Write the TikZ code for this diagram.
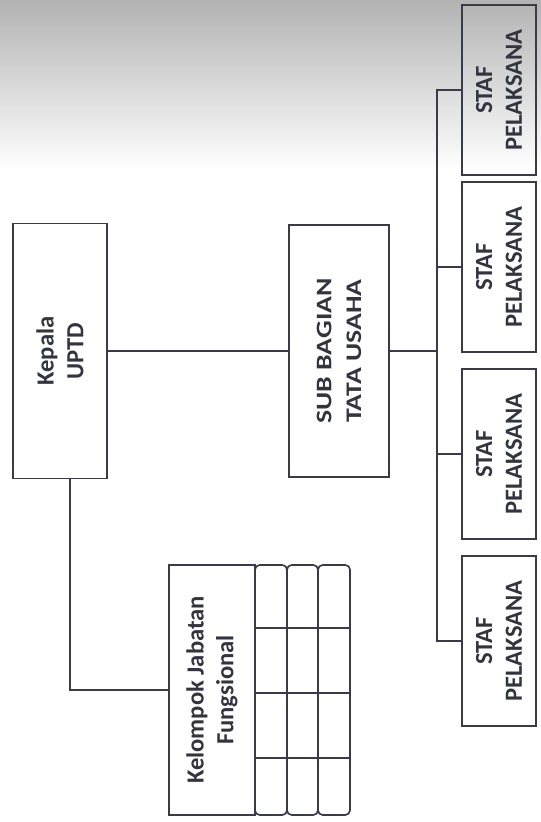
\documentclass[tikz,border=0pt]{standalone}
\usepackage{fontspec}
\setmainfont{Carlito}
\newfontfamily\widefont[FakeStretch=1.25]{Carlito}
\usetikzlibrary{calc}
\definecolor{ink}{HTML}{3A3A48}

\begin{document}
\begin{tikzpicture}[
	x=0.03cm,
	y=-0.03cm,
	box/.style={draw=ink,line width=1.4pt,rotate=90,align=center,inner sep=0pt,
		text=ink!90!black,font=\bfseries\fontsize{21}{25.5}\selectfont},
	link/.style={draw=ink,line width=1.4pt}
]
\useasboundingbox (0,0) rectangle (541,822);
\fill[top color=black!30,bottom color=white] (0,0) rectangle (541,170);

\node[box,minimum width=7.65cm,minimum height=2.82cm] (kepala) at (60,351) {Kepala\\UPTD};
\node[box,minimum width=7.56cm,minimum height=3cm,
	font=\widefont\bfseries\fontsize{19}{25.5}\selectfont] (sub) at (339,351) {SUB BAGIAN\\TATA USAHA};
\node[box,minimum width=7.5cm,minimum height=2.58cm] (kelompok) at (212,690) {Kelompok Jabatan\\Fungsional};
\node[box,minimum width=5.1cm,minimum height=2.22cm] (staf1) at (499,90) {STAF\\PELAKSANA};
\node[box,minimum width=5.1cm,minimum height=2.22cm] (staf2) at (499,267) {STAF\\PELAKSANA};
\node[box,minimum width=5.1cm,minimum height=2.22cm] (staf3) at (499,454) {STAF\\PELAKSANA};
\node[box,minimum width=5.1cm,minimum height=2.22cm] (staf4) at (499,641) {STAF\\PELAKSANA};
\coordinate (bus) at (437,351);

% columns beside the functional group
\draw[link,rounded corners=4pt] (255,565) rectangle (287,815);
\draw[link,rounded corners=4pt] (287,565) rectangle (318,815);
\draw[link,rounded corners=4pt] (318,565) rectangle (350,815);
\draw[link] (255,628) -- (350,628);
\draw[link] (255,693) -- (350,693);
\draw[link] (255,758) -- (350,758);

\draw[link] (kepala) -- (sub);
\draw[link] ($(kepala.west)+(10,0)$) |- (kelompok);
\draw[link] (sub) -- (bus);
\draw[link] (staf1) -| (bus);
\draw[link] (staf2) -| (bus);
\draw[link] (staf3) -| (bus);
\draw[link] (staf4) -| (bus);
\end{tikzpicture}
\end{document}
